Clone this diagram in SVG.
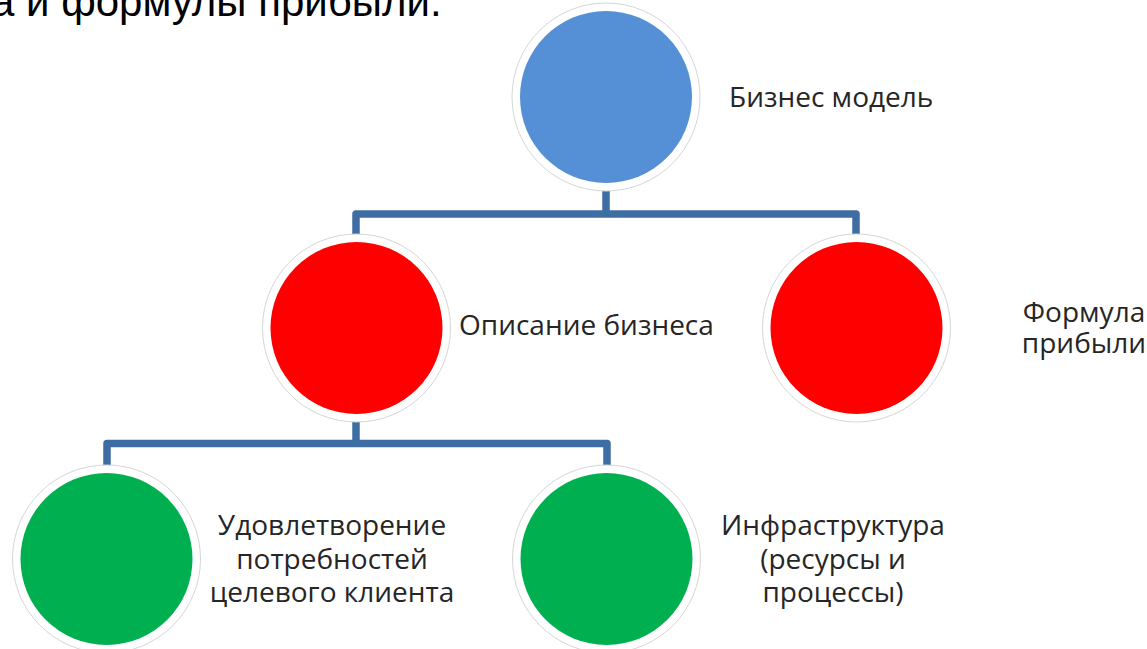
<svg xmlns="http://www.w3.org/2000/svg" width="1147" height="649" viewBox="0 0 1147 649">
  <style>
    .ring { fill: #ffffff; stroke: #d6d6d6; stroke-width: 1; }
    .blue { fill: #5590D6; }
    .red { fill: #FE0000; }
    .green { fill: #00B050; }
    .link { fill: none; stroke: #3E6DA3; stroke-width: 7.5; stroke-linejoin: round; }
    .label { font-family: "Open Sans", "Noto Sans", sans-serif; font-size: 28px; fill: #262626; }
    .mid { text-anchor: middle; }
    .heading { font-family: "Liberation Sans", Arial, sans-serif; font-size: 42px; fill: #000000; }
  </style>
  <rect width="1147" height="649" fill="#ffffff"/>

  <!-- tail of the heading line above the chart -->
  <text class="heading" x="-9" y="16">а и формулы прибыли.</text>

  <!-- connectors -->
  <g id="connectors">
    <path class="link" d="M606,170 V214"/>
    <path class="link" d="M356,245 V214 H856 V245"/>
    <path class="link" d="M356,400 V443.5"/>
    <path class="link" d="M107,480 V443.5 H607 V480"/>
  </g>

  <!-- root -->
  <g id="node-business-model">
    <circle class="ring" cx="606" cy="97" r="94"/>
    <circle class="blue" cx="606" cy="97" r="86"/>
    <text class="label" x="729" y="107">Бизнес модель</text>
  </g>

  <!-- second level -->
  <g id="node-business-description">
    <circle class="ring" cx="356.5" cy="328" r="94"/>
    <circle class="red" cx="356.5" cy="328" r="86"/>
    <text class="label" x="459" y="335">Описание бизнеса</text>
  </g>

  <g id="node-profit-formula">
    <circle class="ring" cx="856.5" cy="328" r="94"/>
    <circle class="red" cx="856.5" cy="328" r="86"/>
    <text class="label mid" x="1084" y="322">Формула</text>
    <text class="label mid" x="1084" y="353">прибыли</text>
  </g>

  <!-- third level -->
  <g id="node-customer-needs">
    <circle class="ring" cx="106.5" cy="559" r="94"/>
    <circle class="green" cx="106.5" cy="559" r="86"/>
    <text class="label mid" x="332" y="535">Удовлетворение</text>
    <text class="label mid" x="332" y="569">потребностей</text>
    <text class="label mid" x="332" y="602">целевого клиента</text>
  </g>

  <g id="node-infrastructure">
    <circle class="ring" cx="606.5" cy="559" r="94"/>
    <circle class="green" cx="606.5" cy="559" r="86"/>
    <text class="label mid" x="833" y="535">Инфраструктура</text>
    <text class="label mid" x="833" y="569">(ресурсы и</text>
    <text class="label mid" x="833" y="602">процессы)</text>
  </g>
</svg>
